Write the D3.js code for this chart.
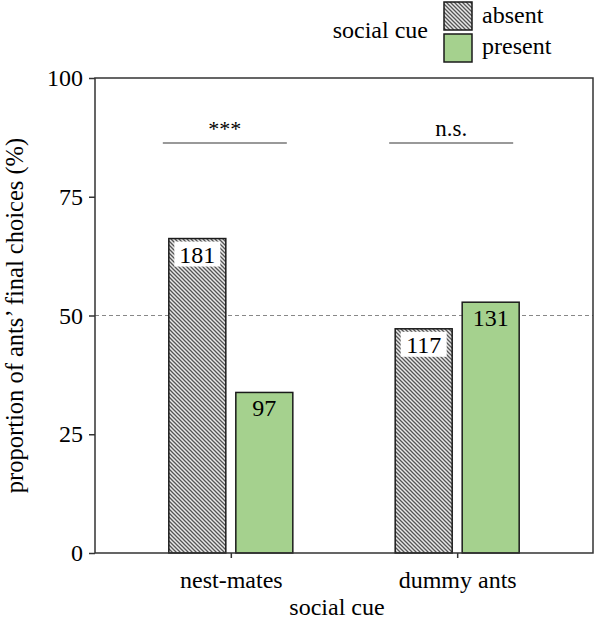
<!DOCTYPE html>
<html><head><meta charset="utf-8">
<script src="https://cdn.jsdelivr.net/npm/d3@7"></script>
<style>body{margin:0;background:#fff}svg{display:block}text{font-family:"Liberation Serif","Times New Roman",Times,serif;fill:#000}</style>
</head><body><svg id="c" width="597" height="628"></svg>
<script>
const groups = ["nest-mates", "dummy ants"];
const cues = ["absent", "present"];
const absentValues = [66.2, 47.2];
const presentValues = [33.8, 52.8];
const absentCounts = [181, 117];
const presentCounts = [97, 131];
const sigLabels = ["***", "n.s."];
const yTicks = [0, 25, 50, 75, 100];

const svg = d3.select("#c");
const L = 95, R = 593, T = 78, B = 553;
const x = d3.scalePoint().domain(groups).range([L, R]).padding(0.6);
const y = d3.scaleLinear().domain([0, 100]).range([B, T]);
const barW = 57, gap = 10;
const FS = 24;

const defs = svg.append("defs");
const pat = defs.append("pattern").attr("id", "hatch").attr("patternUnits", "userSpaceOnUse")
  .attr("width", 4).attr("height", 4);
pat.append("rect").attr("width", 4).attr("height", 4).attr("fill", "#e8e8e8");
pat.append("path").attr("d", "M-1,-1 L5,5 M-1,3 L1,5 M3,-1 L5,1").attr("stroke", "#555").attr("stroke-width", 1.3);

// dashed 50% line
svg.append("line").attr("x1", L).attr("x2", R).attr("y1", y(50)).attr("y2", y(50))
  .attr("stroke", "#888").attr("stroke-width", 1).attr("stroke-dasharray", "4,3");

const data = [];
groups.forEach((g, i) => {
  data.push({g, cue: "absent", v: absentValues[i], n: absentCounts[i]});
  data.push({g, cue: "present", v: presentValues[i], n: presentCounts[i]});
});
const xPos = d => d.cue === "absent" ? x(d.g) - gap / 2 - barW : x(d.g) + gap / 2;

svg.selectAll("rect.bar").data(data).join("rect").attr("class", "bar")
  .attr("x", xPos).attr("width", barW)
  .attr("y", d => y(d.v)).attr("height", d => B - y(d.v))
  .attr("fill", d => d.cue === "absent" ? "url(#hatch)" : "#a5d18e")
  .attr("stroke", "#1a1a1a").attr("stroke-width", 1.5);

// count labels
data.forEach(d => {
  const cx = xPos(d) + barW / 2;
  if (d.cue === "absent") {
    svg.append("rect").attr("x", cx - 23).attr("y", y(d.v) + 3).attr("width", 46).attr("height", 25).attr("fill", "#fff");
  }
  svg.append("text").attr("x", cx).attr("y", y(d.v) + 24).attr("text-anchor", "middle")
    .attr("font-size", FS).text(d.n);
});

// significance
groups.forEach((g, i) => {
  const cx = x(g) - 6;
  svg.append("line").attr("x1", cx - 62).attr("x2", cx + 62).attr("y1", 143).attr("y2", 143)
    .attr("stroke", "#777").attr("stroke-width", 1.5);
  svg.append("text").attr("x", cx).attr("y", 136).attr("text-anchor", "middle")
    .attr("font-size", i === 0 ? 22 : 23).attr("fill", i === 0 ? "#444" : "#000").text(sigLabels[i]);
});

// frame
svg.append("path").attr("d", `M${L},${T}H${R}V${B}H${L}Z`).attr("fill", "none")
  .attr("stroke", "#333").attr("stroke-width", 1.5);

// axes
const ya = svg.append("g").attr("transform", `translate(${L},0)`)
  .call(d3.axisLeft(y).tickValues(yTicks).tickSize(6).tickPadding(6));
ya.select(".domain").remove();
ya.selectAll("line").attr("stroke", "#333").attr("stroke-width", 1.5);
ya.selectAll("text").attr("font-size", FS).attr("fill", "#000");
ya.attr("font-family", null);

const xa = svg.append("g").attr("transform", `translate(0,${B})`)
  .call(d3.axisBottom(x).tickSize(5).tickPadding(13));
xa.select(".domain").remove();
xa.selectAll("line").attr("stroke", "#333").attr("stroke-width", 1.5);
xa.selectAll("text").attr("font-size", FS).attr("fill", "#000");
xa.attr("font-family", null);

svg.append("text").attr("x", 337).attr("y", 615).attr("text-anchor", "middle")
  .attr("font-size", FS).text("social cue");
svg.append("text").attr("transform", `translate(23,${(T + B) / 2}) rotate(-90)`)
  .attr("text-anchor", "middle").attr("font-size", 24.5).text("proportion of ants’ final choices (%)");

// legend
const lg = svg.append("g");
lg.append("text").attr("x", 428).attr("y", 38).attr("text-anchor", "end").attr("font-size", FS).text("social cue");
cues.forEach((c, i) => {
  lg.append("rect").attr("x", 444).attr("y", 2 + i * 32).attr("width", 28).attr("height", 28)
    .attr("fill", i === 0 ? "url(#hatch)" : "#a5d18e").attr("stroke", "#1a1a1a").attr("stroke-width", 1.5);
  lg.append("text").attr("x", 482).attr("y", 23 + i * 31).attr("font-size", FS).text(c);
});
</script></body></html>
